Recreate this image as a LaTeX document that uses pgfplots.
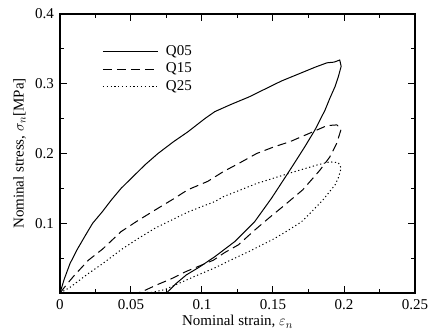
\documentclass[border=0pt]{standalone}
\usepackage{fontspec}
\setmainfont{Liberation Serif}
\usepackage{pgfplots}
\pgfplotsset{compat=1.18}
\begin{document}
\fontsize{15}{18}\selectfont
\begin{tikzpicture}[font=\fontsize{15}{18}\selectfont]
\begin{axis}[
  name=ax,
  scale only axis,
  width=355pt, height=279pt,
  xmin=0, xmax=0.25, ymin=0, ymax=0.4,
  tick label style={font=\fontsize{15}{18}\selectfont},
  label style={font=\fontsize{15}{18}\selectfont},
  xtick={0,0.05,0.1,0.15,0.2,0.25},
  xticklabels={0,0.05,0.1,0.15,0.2,0.25},
  ytick={0.1,0.2,0.3,0.4},
  yticklabels={0.1,0.2,0.3,0.4},
  minor xtick={0.025,0.075,0.125,0.175,0.225},
  minor ytick={0.05,0.15,0.25,0.35},
  tick align=inside,
  xtick pos=both, ytick pos=both,
  major tick length=7pt, minor tick length=4pt,
  axis line style={line width=1.3pt},
  every tick/.style={black, line width=1pt},
  xticklabel style={yshift=-1pt},
  yticklabel style={xshift=-1pt},
  xlabel={Nominal strain, $\varepsilon_n$},
  ylabel={Nominal stress, $\sigma_n$[MPa]},
  xlabel style={yshift=4pt},
  ylabel style={yshift=-1pt},
  legend style={at={(rel axis cs:0.119,0.894)}, anchor=north west, draw=none, fill=none,
    font=\fontsize{15}{17}\selectfont, row sep=1pt, inner sep=0pt},
  legend cell align=left,
  legend image code/.code={\draw[#1] (0pt,0pt) -- (55pt,0pt); \path[draw=none] (0pt,0pt) rectangle (61pt,0pt);},
  every axis plot/.append style={black, line width=1pt},
]
\addplot[solid] coordinates {
(0,0) (0.003,0.02) (0.007,0.042) (0.012,0.062) (0.018,0.083) (0.023,0.1)
(0.030,0.117) (0.036,0.133) (0.043,0.15) (0.052,0.168) (0.060,0.184)
(0.069,0.2) (0.080,0.217) (0.090,0.231) (0.102,0.25) (0.109,0.26)
(0.120,0.27) (0.133,0.281) (0.145,0.293) (0.156,0.304) (0.168,0.314)
(0.180,0.324) (0.188,0.330) (0.193,0.331) (0.197,0.334)
(0.198,0.325) (0.196,0.31) (0.1937,0.296) (0.190,0.279) (0.1866,0.262)
(0.1796,0.234) (0.1725,0.21) (0.165,0.186) (0.1596,0.169) (0.149,0.136)
(0.137,0.102) (0.123,0.0736) (0.109,0.052) (0.098,0.037) (0.089,0.026)
(0.082,0.014) (0.075,0)
};
\addlegendentry{Q05}
\addplot[dash pattern=on 9pt off 5pt] coordinates {
(0,0) (0.005,0.013) (0.010,0.025) (0.020,0.047) (0.030,0.063) (0.043,0.088)
(0.055,0.104) (0.067,0.119) (0.080,0.135) (0.090,0.148) (0.104,0.160)
(0.115,0.174) (0.127,0.187) (0.1385,0.200) (0.150,0.209) (0.162,0.217)
(0.178,0.231) (0.188,0.240) (0.195,0.241) (0.198,0.235)
(0.196,0.222) (0.195,0.215) (0.190,0.195) (0.183,0.176) (0.171,0.148)
(0.157,0.124) (0.148,0.109) (0.137,0.090) (0.1256,0.069) (0.116,0.058)
(0.108,0.047) (0.089,0.031) (0.078,0.020) (0.068,0.0115) (0.060,0.004)
(0.055,0)
};
\addlegendentry{Q15}
\addplot[dash pattern=on 1.2pt off 2.6pt] coordinates {
(0,0) (0.007,0.008) (0.020,0.028) (0.030,0.042) (0.043,0.062) (0.055,0.078)
(0.067,0.093) (0.078,0.104) (0.09,0.116) (0.1,0.124) (0.109,0.131)
(0.115,0.138) (0.1385,0.157) (0.162,0.172) (0.181,0.1835) (0.190,0.188)
(0.196,0.187) (0.198,0.179)
(0.196,0.165) (0.1937,0.155) (0.185,0.133) (0.176,0.114) (0.170,0.102)
(0.160,0.089) (0.151,0.078) (0.1326,0.059) (0.120,0.047) (0.109,0.036)
(0.095,0.024) (0.085,0.015) (0.074,0.005) (0.065,0.001) (0.05,0) (0.032,0)
};
\addlegendentry{Q25}
\end{axis}
\path (ax.south west) ++(-60pt,-36pt) coordinate (bbA);
\path (ax.north east) ++(14pt,14pt) coordinate (bbB);
\pgfresetboundingbox
\path[use as bounding box] (bbA) rectangle (bbB);
\end{tikzpicture}
\end{document}
